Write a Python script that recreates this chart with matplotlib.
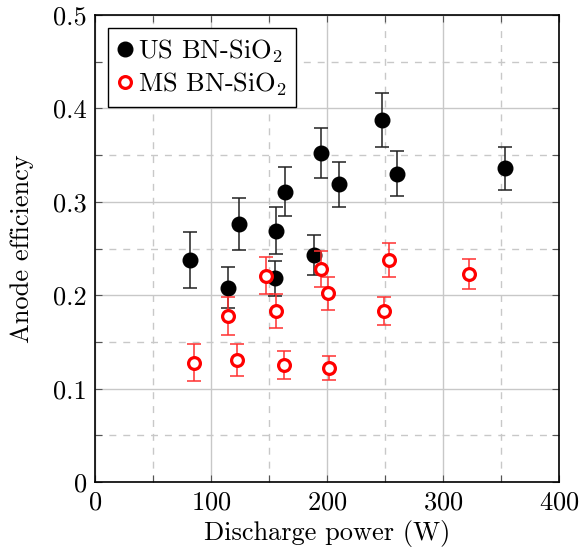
import numpy as np
import matplotlib.pyplot as plt
from matplotlib.ticker import MultipleLocator
from matplotlib.lines import Line2D

plt.rcParams['font.family'] = 'serif'
plt.rcParams['font.serif'] = ['cmr10']
plt.rcParams['mathtext.fontset'] = 'cm'
plt.rcParams['axes.formatter.use_mathtext'] = True

# US BN-SiO2
us_power = [82, 115, 124, 156, 155, 164, 189, 195, 210, 247, 260, 353]
us_eff = [0.238, 0.208, 0.276, 0.269, 0.218, 0.311, 0.243, 0.352, 0.319, 0.388, 0.330, 0.336]
us_err = [0.030, 0.022, 0.028, 0.025, 0.019, 0.026, 0.021, 0.027, 0.024, 0.029, 0.024, 0.023]

# MS BN-SiO2
ms_power = [85, 115, 122, 156, 163, 201, 202, 147, 195, 249, 253, 322]
ms_eff = [0.128, 0.178, 0.131, 0.183, 0.125, 0.202, 0.122, 0.221, 0.228, 0.183, 0.238, 0.223]
ms_err = [0.020, 0.020, 0.017, 0.018, 0.015, 0.018, 0.013, 0.020, 0.019, 0.015, 0.018, 0.016]

fig = plt.figure(figsize=(5.83, 5.53), dpi=100)
ax = fig.add_axes([0.163, 0.128, 0.796, 0.845])

# error bars first, markers on top
ax.errorbar(us_power, us_eff, yerr=us_err, fmt='none', ecolor='#222222',
            capsize=5, elinewidth=1.1, capthick=1.1, zorder=3)
ax.plot(us_power, us_eff, 'o', color='black', ms=10.5, zorder=4)
ax.errorbar(ms_power, ms_eff, yerr=ms_err, fmt='none', ecolor='#ff3030',
            capsize=5, elinewidth=1.1, capthick=1.1, zorder=5)
ax.plot(ms_power, ms_eff, 'o', mfc='white', mec='red', ms=8.5, mew=2.3, zorder=6)

ax.set_xlim(0, 400)
ax.set_ylim(0, 0.5)
ax.xaxis.set_major_locator(MultipleLocator(100))
ax.xaxis.set_minor_locator(MultipleLocator(50))
ax.yaxis.set_major_locator(MultipleLocator(0.1))
ax.yaxis.set_minor_locator(MultipleLocator(0.05))
ax.yaxis.set_major_formatter(plt.FuncFormatter(lambda v, p: '0' if v == 0 else '%.1f' % v))

ax.grid(which='major', color='#c8c8c8', lw=1, ls='-')
ax.grid(which='minor', color='#c8c8c8', lw=1, ls=(0, (5, 5)))
ax.set_axisbelow(True)

ax.tick_params(which='both', direction='in', top=True, right=True, length=5,
               width=0.8, labelsize=19, pad=6, color='#555555')
for s in ax.spines.values():
    s.set_linewidth(1.2)

ax.set_xlabel('Discharge power (W)', fontsize=19, labelpad=4)
ax.set_ylabel('Anode efficiency', fontsize=19, labelpad=14)

handles = [Line2D([], [], ls='none', marker='o', color='black', ms=10.5),
           Line2D([], [], ls='none', marker='o', mfc='white', mec='red', ms=8.5, mew=2.3)]
labels = ['US BN-SiO$_2$', 'MS BN-SiO$_2$']
leg = ax.legend(handles, labels, loc='upper left', fontsize=19, fancybox=False,
                edgecolor='black', framealpha=1, handlelength=0.6, handletextpad=0.2,
                borderpad=0.35, labelspacing=0.2, borderaxespad=0,
                bbox_to_anchor=(0.028, 0.972))
leg.get_frame().set_linewidth(1)

fig.savefig('out.png', dpi=100)
